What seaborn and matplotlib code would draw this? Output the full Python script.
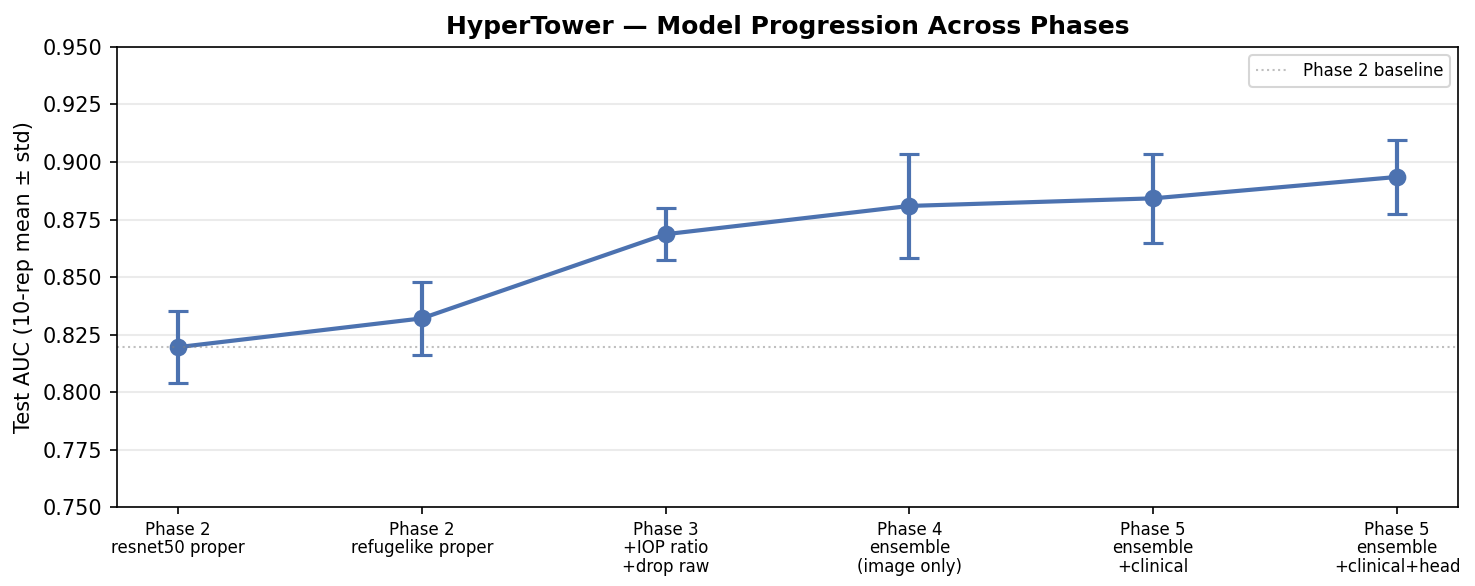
import numpy as np
import pandas as pd
import seaborn as sns
import matplotlib.pyplot as plt
from matplotlib.ticker import FormatStrFormatter

# values
phases = ['Phase 2\nresnet50 proper', 'Phase 2\nrefugelike proper', 'Phase 3\n+IOP ratio\n+drop raw',
          'Phase 4\nensemble\n(image only)', 'Phase 5\nensemble\n+clinical', 'Phase 5\nensemble\n+clinical+head']
auc_mean = [0.8195, 0.8320, 0.8686, 0.8809, 0.8842, 0.8935]
auc_std = [0.0158, 0.0158, 0.0112, 0.0225, 0.0194, 0.0159]
baseline = auc_mean[0]

df = pd.DataFrame({'phase': phases, 'auc': auc_mean, 'std': auc_std})
color = '#4C72B0'

fig, ax = plt.subplots(figsize=(14.75 / 1.5, 5.86 / 1.5), dpi=150)
fig.subplots_adjust(left=0.0793, right=0.9885, top=0.9198, bottom=0.1348)

sns.pointplot(data=df, x='phase', y='auc', color=color, errorbar=None,
              markersize=7, linewidth=2, ax=ax)
ax.errorbar(np.arange(len(phases)), df['auc'], yerr=df['std'], fmt='none',
            ecolor=color, elinewidth=2, capsize=5, capthick=1.5, zorder=3)

# baseline from phase 2 resnet50
ax.axhline(baseline, color='gray', linestyle=':', linewidth=1, alpha=0.5, label='Phase 2 baseline')

ax.set_xlim(-0.25, len(phases) - 0.75)
ax.set_ylim(0.75, 0.95)
ax.set_yticks(np.arange(0.75, 0.9501, 0.025))
ax.yaxis.set_major_formatter(FormatStrFormatter('%.3f'))
ax.tick_params(axis='x', labelsize=8, pad=3)
ax.tick_params(axis='y', labelsize=10)
for lbl in ax.get_xticklabels():
    lbl.set_linespacing(1.05)
ax.yaxis.grid(True, color='#ebebeb', linewidth=1)
ax.set_axisbelow(True)

ax.set_xlabel('')
ax.set_ylabel('Test AUC (10-rep mean ± std)', fontsize=10)
ax.set_title('HyperTower — Model Progression Across Phases', fontsize=12, fontweight='bold')
ax.legend(loc='upper right', fontsize=8)

fig.savefig('out.png', dpi=150)
